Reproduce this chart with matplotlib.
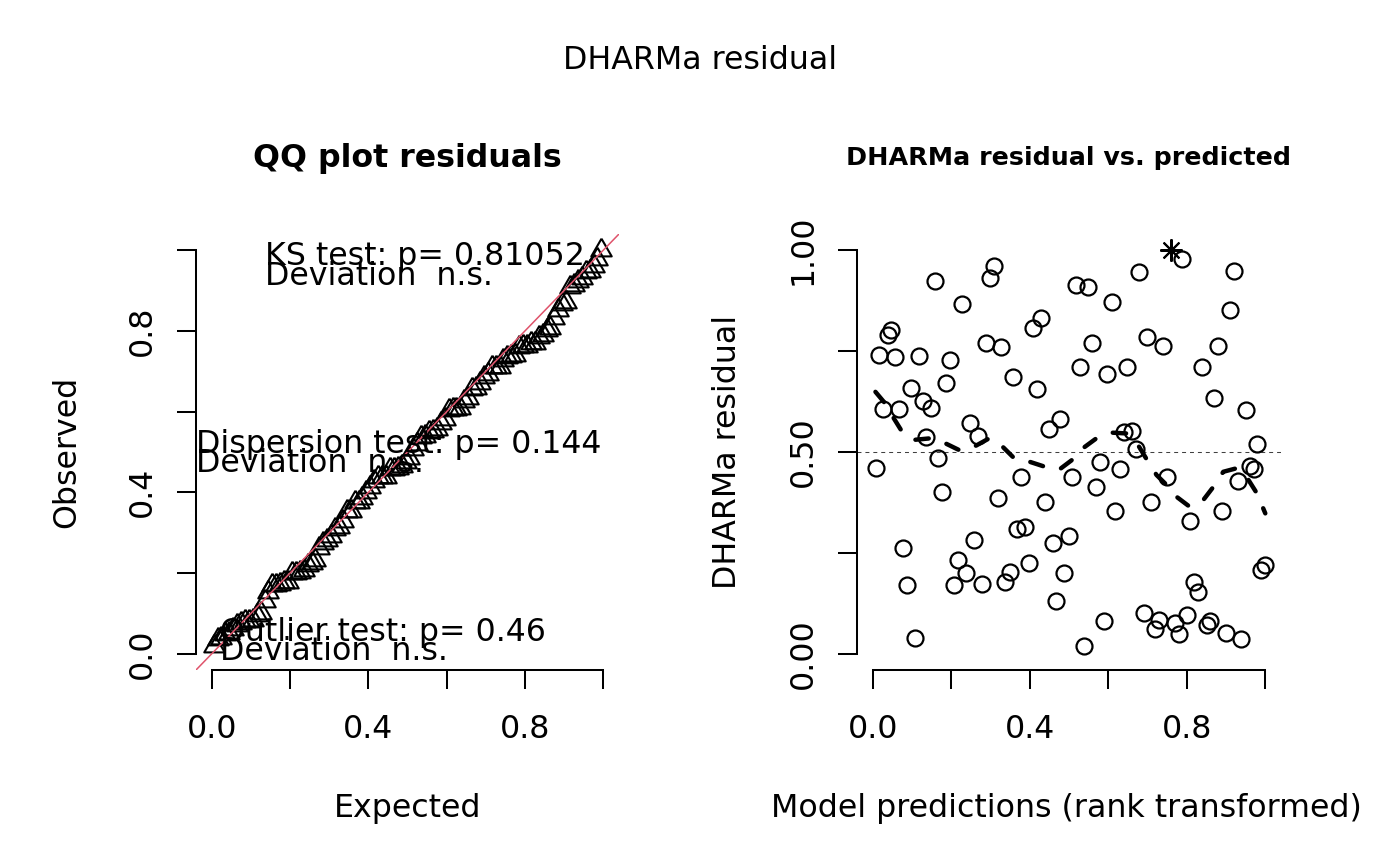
import numpy as np
import matplotlib
matplotlib.use("Agg")
import matplotlib.pyplot as plt
from matplotlib.transforms import Bbox, TransformedBbox

pred = [0.789, 0.920, 0.679, 0.309, 0.298, 0.158, 0.518, 0.549, 0.228, 0.609,
        0.909, 0.047, 0.038, 0.429, 0.408, 0.558, 0.699, 0.739, 0.880, 0.288,
        0.328, 0.017, 0.057, 0.118, 0.198, 0.187, 0.358, 0.419, 0.529, 0.598,
        0.649, 0.840, 0.870, 0.950, 0.098, 0.129, 0.148, 0.026, 0.066, 0.248,
        0.269, 0.137, 0.448, 0.478, 0.640, 0.660, 0.670, 0.979,
        0.009, 0.167, 0.177, 0.379, 0.318, 0.438, 0.508, 0.578, 0.629, 0.568,
        0.618, 0.708, 0.749, 0.808, 0.889, 0.930, 0.960, 0.970, 0.368, 0.388,
        0.257, 0.078, 0.217, 0.237, 0.207, 0.278, 0.088, 0.349, 0.338, 0.398,
        0.459, 0.499, 0.488, 0.468, 0.107, 0.539, 0.589, 0.690, 0.730, 0.719,
        0.770, 0.779, 0.800, 0.819, 0.829, 0.859, 0.851, 0.900, 0.939, 1.000,
        0.990]
resid = [0.979, 0.949, 0.946, 0.961, 0.932, 0.923, 0.913, 0.909, 0.866, 0.872,
         0.851, 0.802, 0.790, 0.833, 0.806, 0.770, 0.784, 0.762, 0.762, 0.769,
         0.759, 0.740, 0.735, 0.738, 0.729, 0.671, 0.686, 0.656, 0.711, 0.693,
         0.711, 0.710, 0.635, 0.603, 0.658, 0.626, 0.610, 0.607, 0.606, 0.571,
         0.540, 0.538, 0.557, 0.581, 0.549, 0.553, 0.507, 0.521,
         0.461, 0.484, 0.400, 0.439, 0.387, 0.377, 0.439, 0.476, 0.457, 0.413,
         0.354, 0.377, 0.437, 0.329, 0.355, 0.428, 0.465, 0.457, 0.309, 0.314,
         0.281, 0.261, 0.233, 0.200, 0.171, 0.174, 0.171, 0.203, 0.179, 0.224,
         0.274, 0.292, 0.200, 0.130, 0.039, 0.020, 0.082, 0.101, 0.083, 0.061,
         0.076, 0.050, 0.096, 0.177, 0.152, 0.082, 0.072, 0.051, 0.036, 0.220,
         0.208]
# outlier (drawn as asterisk)
pred_out = [0.759]
resid_out = [1.0]

# smoothing curve through the residuals
smooth_x = [0.007, 0.032, 0.054, 0.075, 0.105, 0.148, 0.186, 0.224, 0.258, 0.297,
            0.331, 0.361, 0.399, 0.437, 0.476, 0.510, 0.535, 0.570, 0.608, 0.646,
            0.676, 0.699, 0.723, 0.749, 0.774, 0.808, 0.842, 0.868, 0.893, 0.928,
            0.957, 0.979, 1.000]
smooth_y = [0.649, 0.620, 0.583, 0.550, 0.530, 0.534, 0.521, 0.503, 0.513, 0.534,
            0.513, 0.484, 0.476, 0.464, 0.457, 0.482, 0.509, 0.534, 0.548, 0.546,
            0.517, 0.480, 0.443, 0.418, 0.389, 0.364, 0.381, 0.414, 0.451, 0.460,
            0.431, 0.397, 0.348]

ks_text = ["KS test: p= 0.81052", "Deviation  n.s."]
disp_text = ["Dispersion test: p= 0.144", "Deviation  n.s."]
out_text = ["Outlier test: p= 0.46", "Deviation  n.s."]

W, H = 1400, 866
BASE = 22.8   # ~12pt at the original resolution
LW = 1.45


def fx(px):
    return px / W


def fy(py):
    return 1 - py / H


def r_axes(ax, xt, xl, yt, yl):
    # base R look: no box, axis lines only over the tick range
    ax.spines['top'].set_visible(False)
    ax.spines['right'].set_visible(False)
    ax.spines['left'].set_bounds(0, 1)
    ax.spines['bottom'].set_bounds(0, 1)
    for s in ('left', 'bottom'):
        ax.spines[s].set_linewidth(LW)
    ax.set_xlim(-0.04, 1.04)
    ax.set_ylim(-0.04, 1.04)
    ax.set_xticks(xt)
    ax.set_xticklabels(xl)
    ax.set_yticks(yt)
    ax.set_yticklabels(yl, rotation=90, va='center')
    ax.tick_params(direction='out', length=13.7, width=LW, labelsize=BASE)
    ax.tick_params(axis='x', pad=18)
    ax.tick_params(axis='y', pad=14)


fig = plt.figure(figsize=(14, 8.66), dpi=100)
ax1 = fig.add_axes([fx(196), fy(670), (619 - 196) / W, (670 - 234) / H])
ax2 = fig.add_axes([fx(857), fy(670), (1281 - 857) / W, (670 - 234) / H])

# ---- QQ plot
all_res = np.sort(np.array(resid + resid_out))
n = len(all_res)
expected = (np.arange(1, n + 1) - 0.5) / n
tri = [(0, 1), (-0.866, -0.5), (0.866, -0.5), (0, 1)]
ax1.plot(expected, all_res, linestyle='none', marker=tri, ms=17,
         mfc='none', mec='black', mew=1.5)
ax1.axline((0, 0), (1, 1), color='#DF536B', lw=1.1)
r_axes(ax1, [0, 0.2, 0.4, 0.6, 0.8, 1.0], ['0.0', '', '0.4', '', '0.8', ''],
       [0, 0.2, 0.4, 0.6, 0.8, 1.0], ['0.0', '', '0.4', '', '0.8', ''])

# ---- residual vs predicted
ax2.axhline(0.5, color='0.25', lw=0.75, dashes=(3.8, 3.8))
ax2.plot(pred, resid, linestyle='none', marker='o', ms=11.5,
         mfc='none', mec='black', mew=1.6)
ax2.plot(pred_out, resid_out, linestyle='none', marker=(8, 2, 0), ms=16,
         mec='black', mew=1.5)
ax2.plot(smooth_x, smooth_y, color='black', lw=3.2, dashes=(3.0, 4.2),
         dash_capstyle='round')
r_axes(ax2, [0, 0.2, 0.4, 0.6, 0.8, 1.0], ['0.0', '', '0.4', '', '0.8', ''],
       [0, 0.25, 0.5, 0.75, 1.0], ['0.00', '', '0.50', '', '1.00'])

# ---- titles and labels
fig.text(fx(700), fy(69), "DHARMa residual", ha='center', va='baseline', fontsize=BASE)
fig.text(fx(407.5), fy(167), "QQ plot residuals", ha='center', va='baseline',
         fontsize=BASE, fontweight='bold')
fig.text(fx(1069), fy(165), "DHARMa residual vs. predicted", ha='center', va='baseline',
         fontsize=18.3, fontweight='bold')

fig.text(fx(407.5), fy(817), "Expected", ha='center', va='baseline', fontsize=BASE)
xl2 = fig.text(fx(1066), fy(817), "Model predictions (rank transformed)",
               ha='center', va='baseline', fontsize=BASE)
xl2.set_clip_on(True)
xl2.set_clip_box(TransformedBbox(Bbox.from_extents(0, 0, fx(1360), 1), fig.transFigure))
fig.text(fx(75), fy(452), "Observed", ha='center', va='baseline', rotation=90,
         rotation_mode='anchor', fontsize=BASE)
fig.text(fx(736), fy(452), "DHARMa residual", ha='center', va='baseline', rotation=90,
         rotation_mode='anchor', fontsize=BASE)

# test results inside the QQ panel
for lines, x0, y0 in [(ks_text, 265, 265), (disp_text, 196, 452.7), (out_text, 220, 640.7)]:
    for k, s in enumerate(lines):
        fig.text(fx(x0), fy(y0 + 19.7 * k), s, ha='left', va='baseline', fontsize=BASE)

fig.savefig("out.png", dpi=100)
